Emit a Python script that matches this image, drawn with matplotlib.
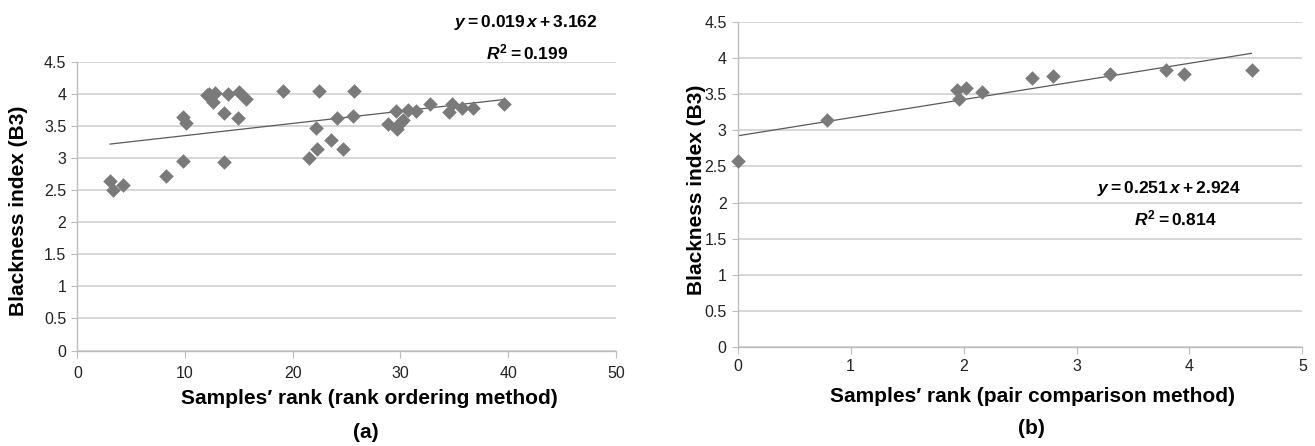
import matplotlib
matplotlib.use("Agg")
import matplotlib.pyplot as plt
import numpy as np

# ---- data ----
rank_a = [3.04, 3.34, 4.20, 8.24, 9.84, 9.84, 10.09, 12.0, 12.26, 12.57, 12.79,
          13.62, 13.62, 13.96, 14.89, 14.99, 15.70, 19.13, 21.54, 22.23, 22.16,
          22.41, 23.58, 24.14, 24.64, 25.63, 25.69, 28.82, 29.56, 29.71, 29.96,
          30.27, 30.71, 31.45, 32.78, 34.54, 34.76, 35.75, 36.74, 39.65]
b3_a = [2.645, 2.50, 2.58, 2.72, 2.96, 3.645, 3.55, 3.98, 4.00, 3.87, 4.01,
        3.70, 2.94, 4.00, 3.63, 4.03, 3.93, 4.04, 3.01, 3.15, 3.47,
        4.05, 3.28, 3.62, 3.14, 3.66, 4.04, 3.53, 3.74, 3.45, 3.55,
        3.59, 3.75, 3.73, 3.84, 3.72, 3.85, 3.78, 3.78, 3.84]
slope_a, icpt_a, r2_a = 0.019, 3.162, 0.199

rank_b = [0.0, 0.79, 1.94, 1.96, 2.02, 2.16, 2.61, 2.79, 3.30, 3.79, 3.95, 4.55]
b3_b = [2.58, 3.14, 3.56, 3.43, 3.58, 3.53, 3.72, 3.75, 3.78, 3.84, 3.78, 3.84]
slope_b, icpt_b, r2_b = 0.251, 2.924, 0.814

yticks = [0, 0.5, 1, 1.5, 2, 2.5, 3, 3.5, 4, 4.5]
ytick_labels = ["0", "0.5", "1", "1.5", "2", "2.5", "3", "3.5", "4", "4.5"]
xticks_a = [0, 10, 20, 30, 40, 50]
xticks_b = [0, 1, 2, 3, 4, 5]

ylabel = "Blackness index (B3)"
xlabel_a = "Samples\u2032 rank (rank ordering method)"
xlabel_b = "Samples\u2032 rank (pair comparison method)"

# ---- style ----
font = ["Liberation Sans", "DejaVu Sans"]
plt.rcParams["font.family"] = font
plt.rcParams["mathtext.fontset"] = "custom"
plt.rcParams["mathtext.it"] = "Liberation Sans:italic:bold"
plt.rcParams["mathtext.bf"] = "Liberation Sans:bold"
plt.rcParams["mathtext.rm"] = "Liberation Sans:bold"

marker_color = "#7a7a7a"
line_color = "#5a5a5a"
grid_color = "#d3d3d3"
spine_color = "#bdbdbd"
label_size = 15
eq_size = 12.5

W, H = 1315.0, 446.0
fig = plt.figure(figsize=(13.15, 4.46), dpi=100)
ax_a = fig.add_axes([0.0588, 0.2141, 0.4095, 0.6469])
ax_b = fig.add_axes([0.5610, 0.2220, 0.4294, 0.7287])


def fx(px):
    return px / W


def fy(py):
    return 1 - py / H


def style(ax, xticks, xlim, xpad):
    ax.set_xlim(*xlim)
    ax.set_ylim(0, 4.5)
    ax.set_yticks(yticks)
    ax.set_yticklabels(ytick_labels)
    ax.set_xticks(xticks)
    ax.set_xticklabels([str(t) for t in xticks])
    ax.yaxis.grid(True, color=grid_color, linewidth=1.3)
    ax.set_axisbelow(True)
    for s in ("top", "right"):
        ax.spines[s].set_visible(False)
    for s in ("left", "bottom"):
        ax.spines[s].set_color(spine_color)
        ax.spines[s].set_linewidth(1.0)
    ax.tick_params(axis="x", direction="out", length=5, color=spine_color,
                   labelsize=11.5, labelcolor="#222222", pad=xpad)
    ax.tick_params(axis="y", direction="out", length=4, color=spine_color,
                   labelsize=11.5, labelcolor="#222222", pad=4)


style(ax_a, xticks_a, (0, 50), 6)
style(ax_b, xticks_b, (0, 5), 4)

# panel a
ax_a.scatter(rank_a, b3_a, marker="D", s=55, color=marker_color, zorder=3, linewidths=0)
xa = np.array([min(rank_a), max(rank_a)])
ax_a.plot(xa, slope_a * xa + icpt_a, color=line_color, linewidth=0.9, zorder=2)

# panel b
ax_b.scatter(rank_b, b3_b, marker="D", s=55, color=marker_color, zorder=3, linewidths=0, clip_on=False)
xb = np.array([min(rank_b), max(rank_b)])
ax_b.plot(xb, slope_b * xb + icpt_b, color=line_color, linewidth=0.9, zorder=2)

# labels (figure-level placement)
bold = dict(fontweight="bold", ha="center", va="center")
fig.text(fx(19), fy(211), ylabel, rotation=90, fontsize=label_size, **bold)
fig.text(fx(697), fy(190), ylabel, rotation=90, fontsize=label_size, **bold)
fig.text(fx(369), fy(399), xlabel_a, fontsize=label_size, **bold)
fig.text(fx(1032), fy(396), xlabel_b, fontsize=label_size, **bold)
fig.text(fx(366), fy(433), "(a)", fontsize=label_size, **bold)
fig.text(fx(1031), fy(429), "(b)", fontsize=label_size, **bold)

# regression annotations
fig.text(fx(526), fy(22), r"$y = %.3f\,x + %.3f$" % (slope_a, icpt_a),
         fontsize=eq_size, ha="center", va="center")
fig.text(fx(527), fy(52), r"$R^{2} = %.3f$" % r2_a,
         fontsize=eq_size, ha="center", va="center")
fig.text(fx(1169), fy(189), r"$y = %.3f\,x + %.3f$" % (slope_b, icpt_b),
         fontsize=eq_size, ha="center", va="center")
fig.text(fx(1175), fy(218), r"$R^{2} = %.3f$" % r2_b,
         fontsize=eq_size, ha="center", va="center")

fig.savefig("out.png", dpi=100)
